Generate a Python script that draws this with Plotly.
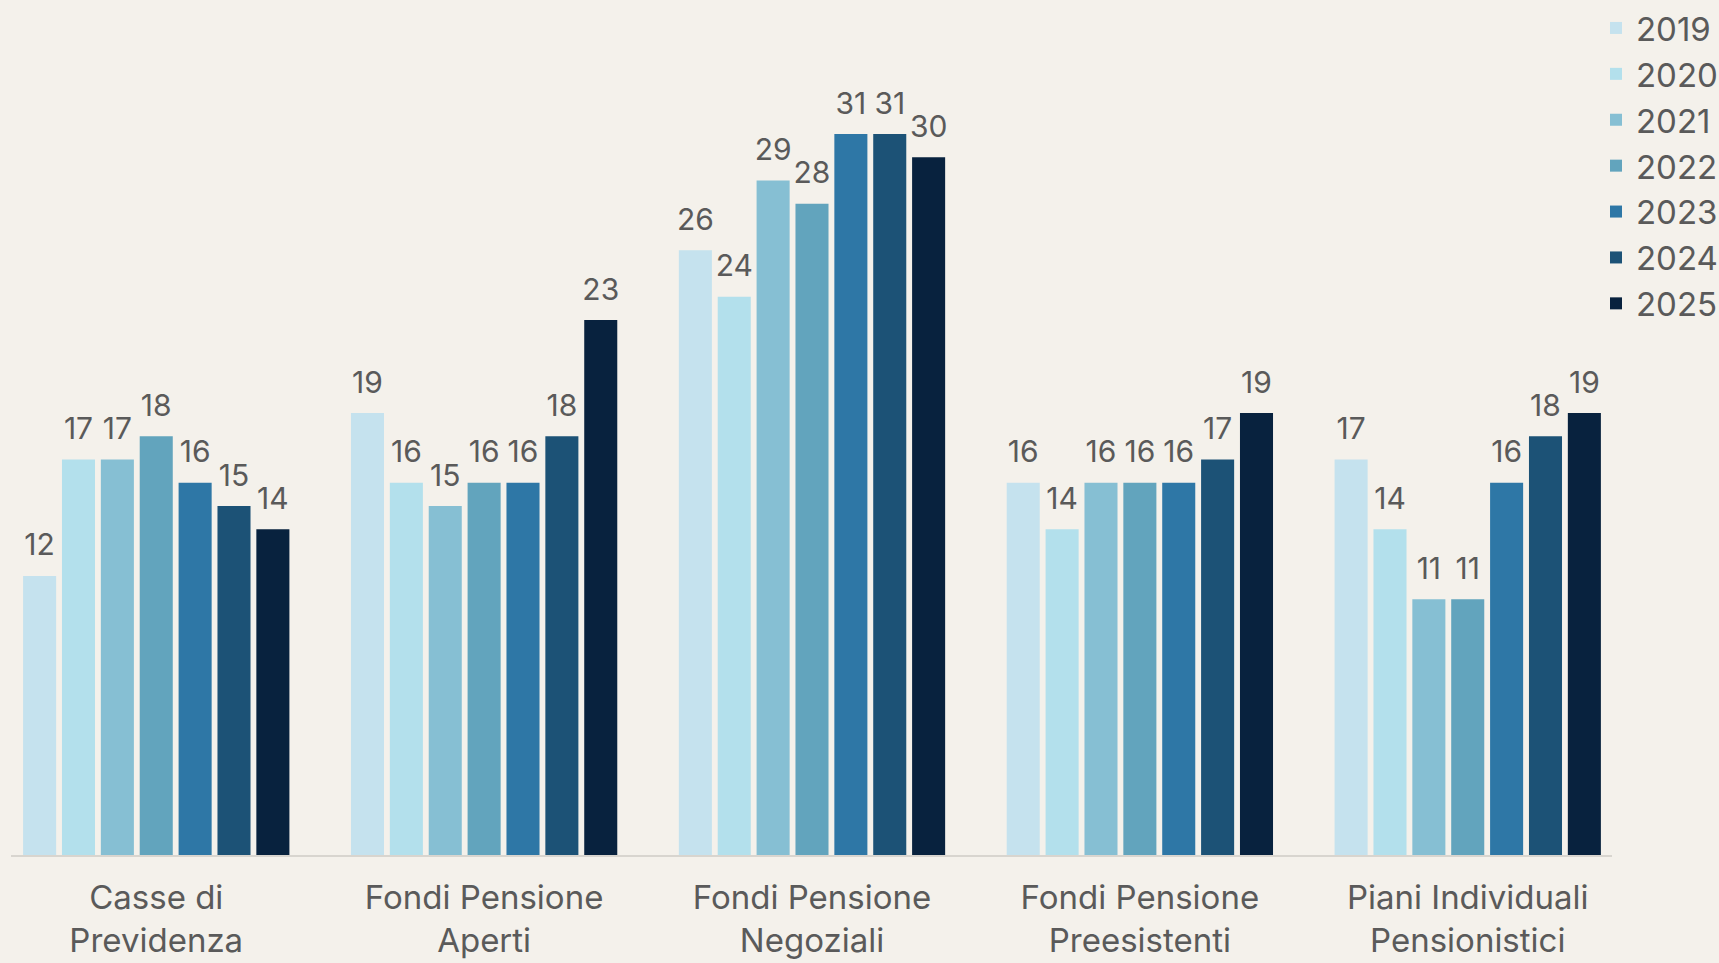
import plotly.graph_objects as go

categorie = ["Casse di<br>Previdenza", "Fondi Pensione<br>Aperti", "Fondi Pensione<br>Negoziali",
             "Fondi Pensione<br>Preesistenti", "Piani Individuali<br>Pensionistici"]
anni = ["2019", "2020", "2021", "2022", "2023", "2024", "2025"]

v2019 = [12, 19, 26, 16, 17]
v2020 = [17, 16, 24, 14, 14]
v2021 = [17, 15, 29, 16, 11]
v2022 = [18, 16, 28, 16, 11]
v2023 = [16, 16, 31, 16, 16]
v2024 = [15, 18, 31, 17, 18]
v2025 = [14, 23, 30, 19, 19]
valori = [v2019, v2020, v2021, v2022, v2023, v2024, v2025]

colori = ["#c5e2ee", "#b3e0ec", "#86bfd3", "#62a4bd", "#2e77a6", "#1c5276", "#08223e"]
sfondo = "#f4f1eb"
grigio = "#5a5a5a"
stacco = 0.45  # spazio tra barra ed etichetta (unità asse y)

fig = go.Figure()
for anno, vals, col in zip(anni, valori, colori):
    fig.add_trace(go.Bar(
        x=categorie, y=vals, name=anno, offsetgroup=anno,
        marker=dict(color=col, line=dict(width=0)),
    ))
    # barra trasparente sopra la barra vera, solo per portare l'etichetta
    fig.add_trace(go.Bar(
        x=categorie, y=[stacco] * len(vals), base=vals, offsetgroup=anno,
        marker=dict(color="rgba(0,0,0,0)", line=dict(width=0)),
        text=vals, textposition="outside",
        textfont=dict(size=30, color=grigio),
        constraintext="none", cliponaxis=False,
        showlegend=False, hoverinfo="skip",
    ))

fig.update_layout(
    width=1719, height=963,
    barmode="group", bargap=0.17, bargroupgap=0.15,
    paper_bgcolor=sfondo, plot_bgcolor=sfondo,
    font=dict(family="Inter", color=grigio),
    margin=dict(l=11, r=107, t=0, b=108, autoexpand=False),
    legend=dict(x=0.99, xanchor="left", y=1.0, yanchor="top",
                font=dict(size=33, color=grigio), bgcolor="rgba(0,0,0,0)",
                itemclick=False),
    showlegend=True,
)
fig.update_xaxes(range=[-0.443, 4.44], showline=True, linecolor="#d8d5cf", linewidth=2,
                 ticks="", ticklabelstandoff=12,
                 tickfont=dict(size=33, color=grigio), showgrid=False)
fig.update_yaxes(range=[0, 36.76], visible=False, showgrid=False)

fig.write_html("out.html", config={"displayModeBar": False},
               post_script="document.body.style.margin='0';")
